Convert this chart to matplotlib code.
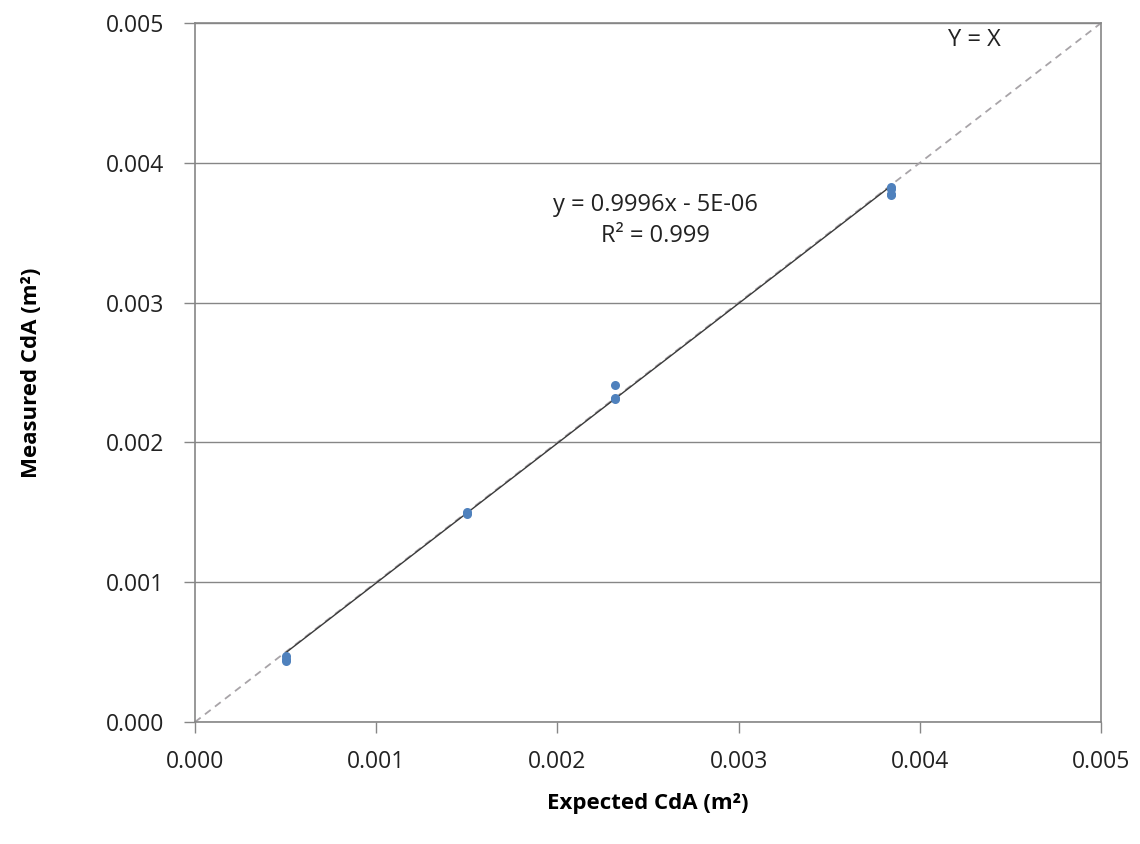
import numpy as np
import matplotlib.pyplot as plt

# measured vs expected discharge area values
expected = [0.00050, 0.00050, 0.00050, 0.00150, 0.00150,
            0.00232, 0.00232, 0.00232, 0.00384, 0.00384, 0.00384, 0.00384]
measured = [0.00047, 0.00045, 0.00044, 0.00150, 0.00149,
            0.00241, 0.00232, 0.00231, 0.00383, 0.00381, 0.00378, 0.00377]
slope = 0.9996
intercept = -5e-06
r_squared = 0.999
ticks = [0.000, 0.001, 0.002, 0.003, 0.004, 0.005]
tick_labels = ["0.000", "0.001", "0.002", "0.003", "0.004", "0.005"]

plt.rcParams['font.family'] = ['Open Sans', 'DejaVu Sans']

fig = plt.figure(figsize=(11.4, 8.44), dpi=100)
ax = fig.add_axes([0.171, 0.1445, 0.7948, 0.8282])

axis_gray = '#868686'

# horizontal gridlines only
ax.set_axisbelow(True)
ax.yaxis.grid(True, color=axis_gray, linewidth=1.0)

# Y = X reference
ax.plot([0, 0.005], [0, 0.005], linestyle=(0, (4, 3)), color='#a8a4a8', linewidth=1.3)

# trendline over data range
x_fit = np.array([min(expected), max(expected)])
ax.plot(x_fit, slope * x_fit + intercept, color='#3a3a3a', linewidth=1.0)

ax.plot(expected, measured, 'o', color='#4f81bd', markersize=6.5, markeredgewidth=0)

ax.set_xlim(0, 0.005)
ax.set_ylim(0, 0.005)
ax.set_xticks(ticks)
ax.set_xticklabels(tick_labels)
ax.set_yticks(ticks)
ax.set_yticklabels(tick_labels)
ax.tick_params(direction='out', length=8, width=1.0, color=axis_gray,
               labelsize=16.5, labelcolor='#222222')
ax.tick_params(axis='y', pad=14)
ax.tick_params(axis='x', pad=12)

for sp in ax.spines.values():
    sp.set_color(axis_gray)
    sp.set_linewidth(1.2)

ax.set_xlabel('Expected CdA (m²)', fontsize=16, fontweight='bold', labelpad=14)
ax.set_ylabel('Measured CdA (m²)', fontsize=16, fontweight='bold', labelpad=46)

ax.text(0.00254, 0.00370, f'y = {slope}x - 5E-06', fontsize=17, ha='center', va='center', color='#222222')
ax.text(0.00254, 0.00348, f'R² = {r_squared}', fontsize=17, ha='center', va='center', color='#222222')
ax.text(0.00430, 0.00488, 'Y = X', fontsize=17, ha='center', va='center', color='#222222')

fig.savefig('out.png', dpi=100, facecolor='white')
